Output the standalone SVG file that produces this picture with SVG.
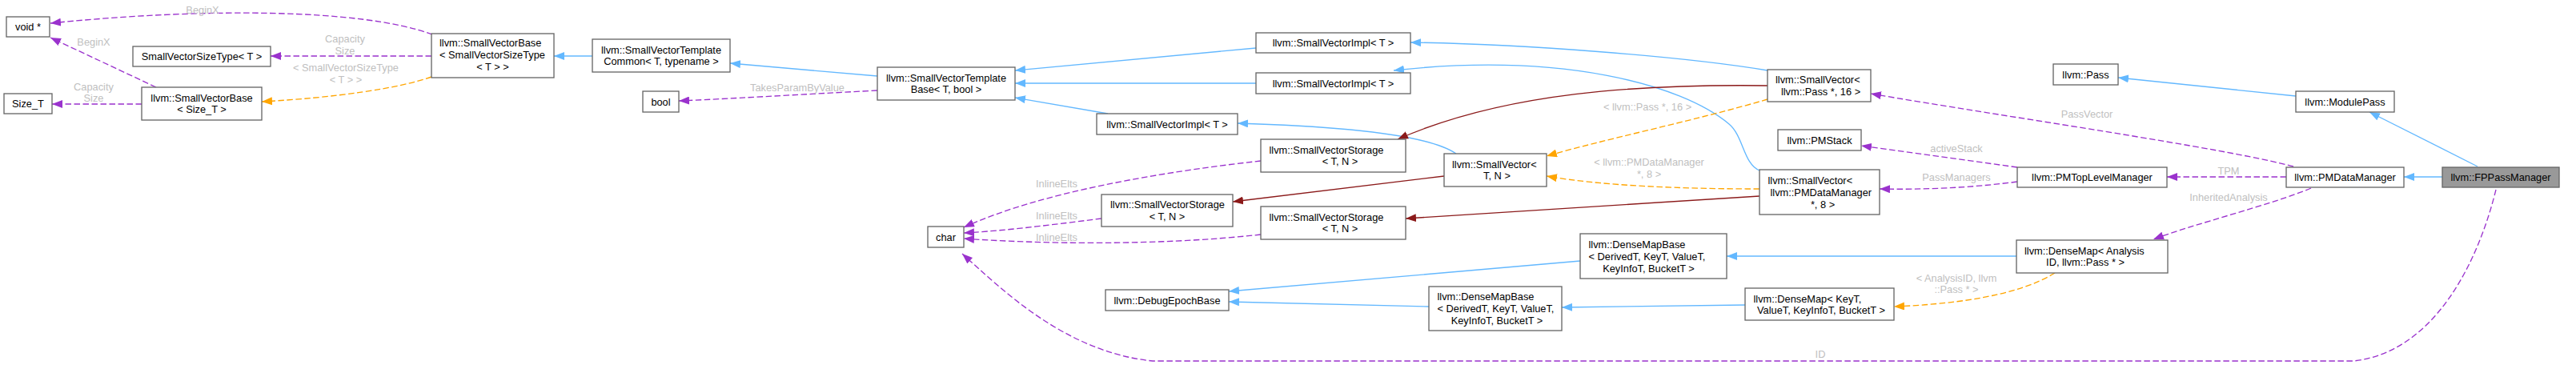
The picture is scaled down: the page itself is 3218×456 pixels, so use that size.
<svg xmlns="http://www.w3.org/2000/svg" width="3218" height="456" viewBox="0 0 3218 456">
<style>
.n rect{fill:#fff;stroke:#666;stroke-width:1.33}
.n rect.hl{fill:#999}
text{font-family:"Liberation Sans",Arial,Helvetica,sans-serif;font-size:12.8px;fill:#000}
.c{text-anchor:middle}
.lb{fill:#c0c0c0;text-anchor:middle}
.e path{fill:none;stroke-width:1.33}
.e path.b{stroke:#63b8ff;marker-end:url(#ab)}
.e path.r{stroke:#8b1a1a;marker-end:url(#ar)}
.e path.p{stroke:#9a32cd;stroke-dasharray:7.5,3.5;marker-end:url(#ap)}
.e path.o{stroke:#ffa500;stroke-dasharray:7.5,3.5;marker-end:url(#ao)}
</style>
<defs>
<marker id="ab" viewBox="0 0 13 10" refX="13" refY="5" markerWidth="13" markerHeight="10" markerUnits="userSpaceOnUse" orient="auto"><path d="M0,0 L13,5 L0,10 z" fill="#63b8ff" stroke="none"/></marker>
<marker id="ar" viewBox="0 0 13 10" refX="13" refY="5" markerWidth="13" markerHeight="10" markerUnits="userSpaceOnUse" orient="auto"><path d="M0,0 L13,5 L0,10 z" fill="#8b1a1a" stroke="none"/></marker>
<marker id="ap" viewBox="0 0 13 10" refX="13" refY="5" markerWidth="13" markerHeight="10" markerUnits="userSpaceOnUse" orient="auto"><path d="M0,0 L13,5 L0,10 z" fill="#9a32cd" stroke="none"/></marker>
<marker id="ao" viewBox="0 0 13 10" refX="13" refY="5" markerWidth="13" markerHeight="10" markerUnits="userSpaceOnUse" orient="auto"><path d="M0,0 L13,5 L0,10 z" fill="#ffa500" stroke="none"/></marker>
</defs>
<rect width="3218" height="456" fill="#fff"/>

<g id="edges" class="e">
<path class="p" d="M195,109 L63,47"/>
<path class="p" d="M540,43 C450,10 250,10 63,29"/>
<path class="p" d="M539,70 L338,70"/>
<path class="o" d="M539,96 C500,110 420,122 327,127"/>
<path class="p" d="M177,130 L65,130"/>
<path class="b" d="M740,70 L692,70"/>
<path class="b" d="M1096,95 L912,79"/>
<path class="p" d="M1096,113 C1000,118 900,124 848,126"/>
<path class="b" d="M1569,60 L1268,88"/>
<path class="b" d="M1569,104 L1268,104"/>
<path class="b" d="M1384,142 L1268,122"/>
<path class="b" d="M1819,192 C1780,165 1650,157 1546,154"/>
<path class="r" d="M1804,220 L1540,252"/>
<path class="b" d="M2208,88 C2100,70 1900,55 1762,53"/>
<path class="b" d="M2198,213 C2178,205 2178,170 2160,155 C2100,105 1950,65 1741,88"/>
<path class="r" d="M2208,107 C2050,105 1880,115 1746,174"/>
<path class="o" d="M2208,124 C2120,150 2000,175 1932,195"/>
<path class="o" d="M2198,236 C2100,236 2000,232 1932,220"/>
<path class="r" d="M2198,245 L1756,273"/>
<path class="p" d="M1575,201 C1450,215 1300,240 1204,284"/>
<path class="p" d="M1376,273 C1320,280 1260,288 1204,291"/>
<path class="p" d="M1575,293 C1450,307 1300,305 1204,298"/>
<path class="p" d="M3118,237 C3095,330 3040,440 2940,451 L1440,451 C1330,440 1250,360 1202,317"/>
<path class="b" d="M1974,326 L1535,364"/>
<path class="b" d="M1785,383 L1535,377"/>
<path class="b" d="M2519,320 L2157,320"/>
<path class="b" d="M2180,381 L1951,384"/>
<path class="o" d="M2567,341 C2520,370 2440,380 2366,383"/>
<path class="p" d="M2887,235 C2840,255 2740,280 2690,299"/>
<path class="p" d="M2856,221 L2707,221"/>
<path class="p" d="M2865,208 C2780,185 2500,145 2337,117"/>
<path class="p" d="M2520,209 L2325,182"/>
<path class="p" d="M2520,227 C2460,235 2400,237 2348,236"/>
<path class="b" d="M3051,221 L3003,221"/>
<path class="b" d="M3095,208 L2960,140"/>
<path class="b" d="M2868,120 L2646,97"/>
</g>

<g id="edge-labels">
<text class="lb" x="253" y="17">BeginX</text>
<text class="lb" x="117" y="57">BeginX</text>
<text class="lb" x="431" y="53">Capacity</text>
<text class="lb" x="431" y="68">Size</text>
<text class="lb" x="432" y="89">&lt; SmallVectorSizeType</text>
<text class="lb" x="432" y="104">&lt; T &gt; &gt;</text>
<text class="lb" x="117" y="113">Capacity</text>
<text class="lb" x="117" y="127">Size</text>
<text class="lb" x="996" y="114">TakesParamByValue</text>
<text class="lb" x="1320" y="234">InlineElts</text>
<text class="lb" x="1320" y="274">InlineElts</text>
<text class="lb" x="1320" y="301">InlineElts</text>
<text class="lb" x="2058" y="138">&lt; llvm::Pass *, 16 &gt;</text>
<text class="lb" x="2060" y="207">&lt; llvm::PMDataManager</text>
<text class="lb" x="2060" y="222">*, 8 &gt;</text>
<text class="lb" x="2607" y="147">PassVector</text>
<text class="lb" x="2444" y="190">activeStack</text>
<text class="lb" x="2444" y="226">PassManagers</text>
<text class="lb" x="2784" y="218">TPM</text>
<text class="lb" x="2784" y="251">InheritedAnalysis</text>
<text class="lb" x="2444" y="352">&lt; AnalysisID, llvm</text>
<text class="lb" x="2444" y="366">::Pass * &gt;</text>
<text class="lb" x="2274" y="447">ID</text>
</g>

<g id="n-void" class="n"><rect x="8" y="21" width="54" height="25"/><text class="c" x="35" y="38">void *</text></g>
<g id="n-sizet" class="n"><rect x="5" y="117" width="60" height="25"/><text class="c" x="35" y="134">Size_T</text></g>
<g id="n-svst" class="n"><rect x="166" y="58" width="172" height="25"/><text class="c" x="252" y="75">SmallVectorSizeType&lt; T &gt;</text></g>
<g id="n-svbase-sizet" class="n"><rect x="177" y="109" width="150" height="41"/><text class="c" x="252" y="126.5">llvm::SmallVectorBase</text><text class="c" x="252" y="141">&lt; Size_T &gt;</text></g>
<g id="n-svbase-svst" class="n"><rect x="539" y="42" width="153" height="55"/><text x="549" y="58">llvm::SmallVectorBase</text><text x="549" y="73">&lt; SmallVectorSizeType</text><text class="c" x="615.5" y="88">&lt; T &gt; &gt;</text></g>
<g id="n-svtc" class="n"><rect x="740" y="49" width="172" height="41"/><text class="c" x="826" y="66.5">llvm::SmallVectorTemplate</text><text class="c" x="826" y="81">Common&lt; T, typename &gt;</text></g>
<g id="n-bool" class="n"><rect x="803" y="114" width="45" height="26"/><text class="c" x="825.5" y="131.5">bool</text></g>
<g id="n-svtb" class="n"><rect x="1096" y="84" width="172" height="41"/><text class="c" x="1182" y="101.5">llvm::SmallVectorTemplate</text><text class="c" x="1182" y="116">Base&lt; T, bool &gt;</text></g>
<g id="n-svimpl1" class="n"><rect x="1569" y="41" width="193" height="25"/><text class="c" x="1665.5" y="58">llvm::SmallVectorImpl&lt; T &gt;</text></g>
<g id="n-svimpl2" class="n"><rect x="1569" y="91" width="193" height="26"/><text class="c" x="1665.5" y="108.5">llvm::SmallVectorImpl&lt; T &gt;</text></g>
<g id="n-svimpl3" class="n"><rect x="1370" y="142" width="176" height="26"/><text class="c" x="1458" y="159.5">llvm::SmallVectorImpl&lt; T &gt;</text></g>
<g id="n-svstor1" class="n"><rect x="1575" y="174" width="181" height="41"/><text x="1585.5" y="191.5">llvm::SmallVectorStorage</text><text class="c" x="1674" y="206">&lt; T, N &gt;</text></g>
<g id="n-svstor2" class="n"><rect x="1575" y="258" width="181" height="41"/><text x="1585.5" y="275.5">llvm::SmallVectorStorage</text><text class="c" x="1674" y="290">&lt; T, N &gt;</text></g>
<g id="n-svstor3" class="n"><rect x="1376" y="243" width="164" height="40"/><text x="1387" y="260">llvm::SmallVectorStorage</text><text class="c" x="1458" y="274.5">&lt; T, N &gt;</text></g>
<g id="n-char" class="n"><rect x="1159" y="283" width="45" height="26"/><text class="c" x="1181.5" y="300.5">char</text></g>
<g id="n-debugepoch" class="n"><rect x="1381" y="362" width="154" height="26"/><text class="c" x="1458" y="379.5">llvm::DebugEpochBase</text></g>
<g id="n-sv-tn" class="n"><rect x="1804" y="192" width="128" height="41"/><text x="1814" y="209.5">llvm::SmallVector&lt;</text><text class="c" x="1870" y="224">T, N &gt;</text></g>
<g id="n-dmb2" class="n"><rect x="1785" y="358" width="166" height="55"/><text x="1795.5" y="375">llvm::DenseMapBase</text><text x="1795.5" y="390">&lt; DerivedT, KeyT, ValueT,</text><text class="c" x="1870" y="405">KeyInfoT, BucketT &gt;</text></g>
<g id="n-dmb1" class="n"><rect x="1974" y="292" width="183" height="56"/><text x="1984.5" y="309.5">llvm::DenseMapBase</text><text x="1984.5" y="324.5">&lt; DerivedT, KeyT, ValueT,</text><text class="c" x="2059.5" y="339.5">KeyInfoT, BucketT &gt;</text></g>
<g id="n-sv-pass16" class="n"><rect x="2208" y="87" width="129" height="40"/><text x="2218" y="104">llvm::SmallVector&lt;</text><text class="c" x="2274.5" y="119">llvm::Pass *, 16 &gt;</text></g>
<g id="n-pmstack" class="n"><rect x="2221" y="162" width="104" height="26"/><text class="c" x="2273" y="179.5">llvm::PMStack</text></g>
<g id="n-sv-pmdm8" class="n"><rect x="2198" y="212" width="150" height="56"/><text x="2208.5" y="230">llvm::SmallVector&lt;</text><text x="2211.5" y="245">llvm::PMDataManager</text><text class="c" x="2277" y="260">*, 8 &gt;</text></g>
<g id="n-dmk" class="n"><rect x="2180" y="360" width="186" height="40"/><text x="2190.5" y="377.5">llvm::DenseMap&lt; KeyT,</text><text class="c" x="2275" y="392">ValueT, KeyInfoT, BucketT &gt;</text></g>
<g id="n-pass" class="n"><rect x="2565" y="80" width="81" height="26"/><text class="c" x="2605.5" y="97.5">llvm::Pass</text></g>
<g id="n-ptlm" class="n"><rect x="2520" y="209" width="187" height="25"/><text class="c" x="2613.5" y="226">llvm::PMTopLevelManager</text></g>
<g id="n-dma" class="n"><rect x="2519" y="300" width="189" height="41"/><text x="2529" y="317.5">llvm::DenseMap&lt; Analysis</text><text class="c" x="2605" y="332">ID, llvm::Pass * &gt;</text></g>
<g id="n-modulepass" class="n"><rect x="2868" y="114" width="123" height="26"/><text class="c" x="2929.5" y="131.5">llvm::ModulePass</text></g>
<g id="n-pmdm" class="n"><rect x="2856" y="209" width="147" height="25"/><text class="c" x="2929.5" y="226">llvm::PMDataManager</text></g>
<g id="n-fppm" class="n"><rect class="hl" x="3051" y="209" width="146" height="25"/><text class="c" x="3124" y="226">llvm::FPPassManager</text></g>
</svg>
